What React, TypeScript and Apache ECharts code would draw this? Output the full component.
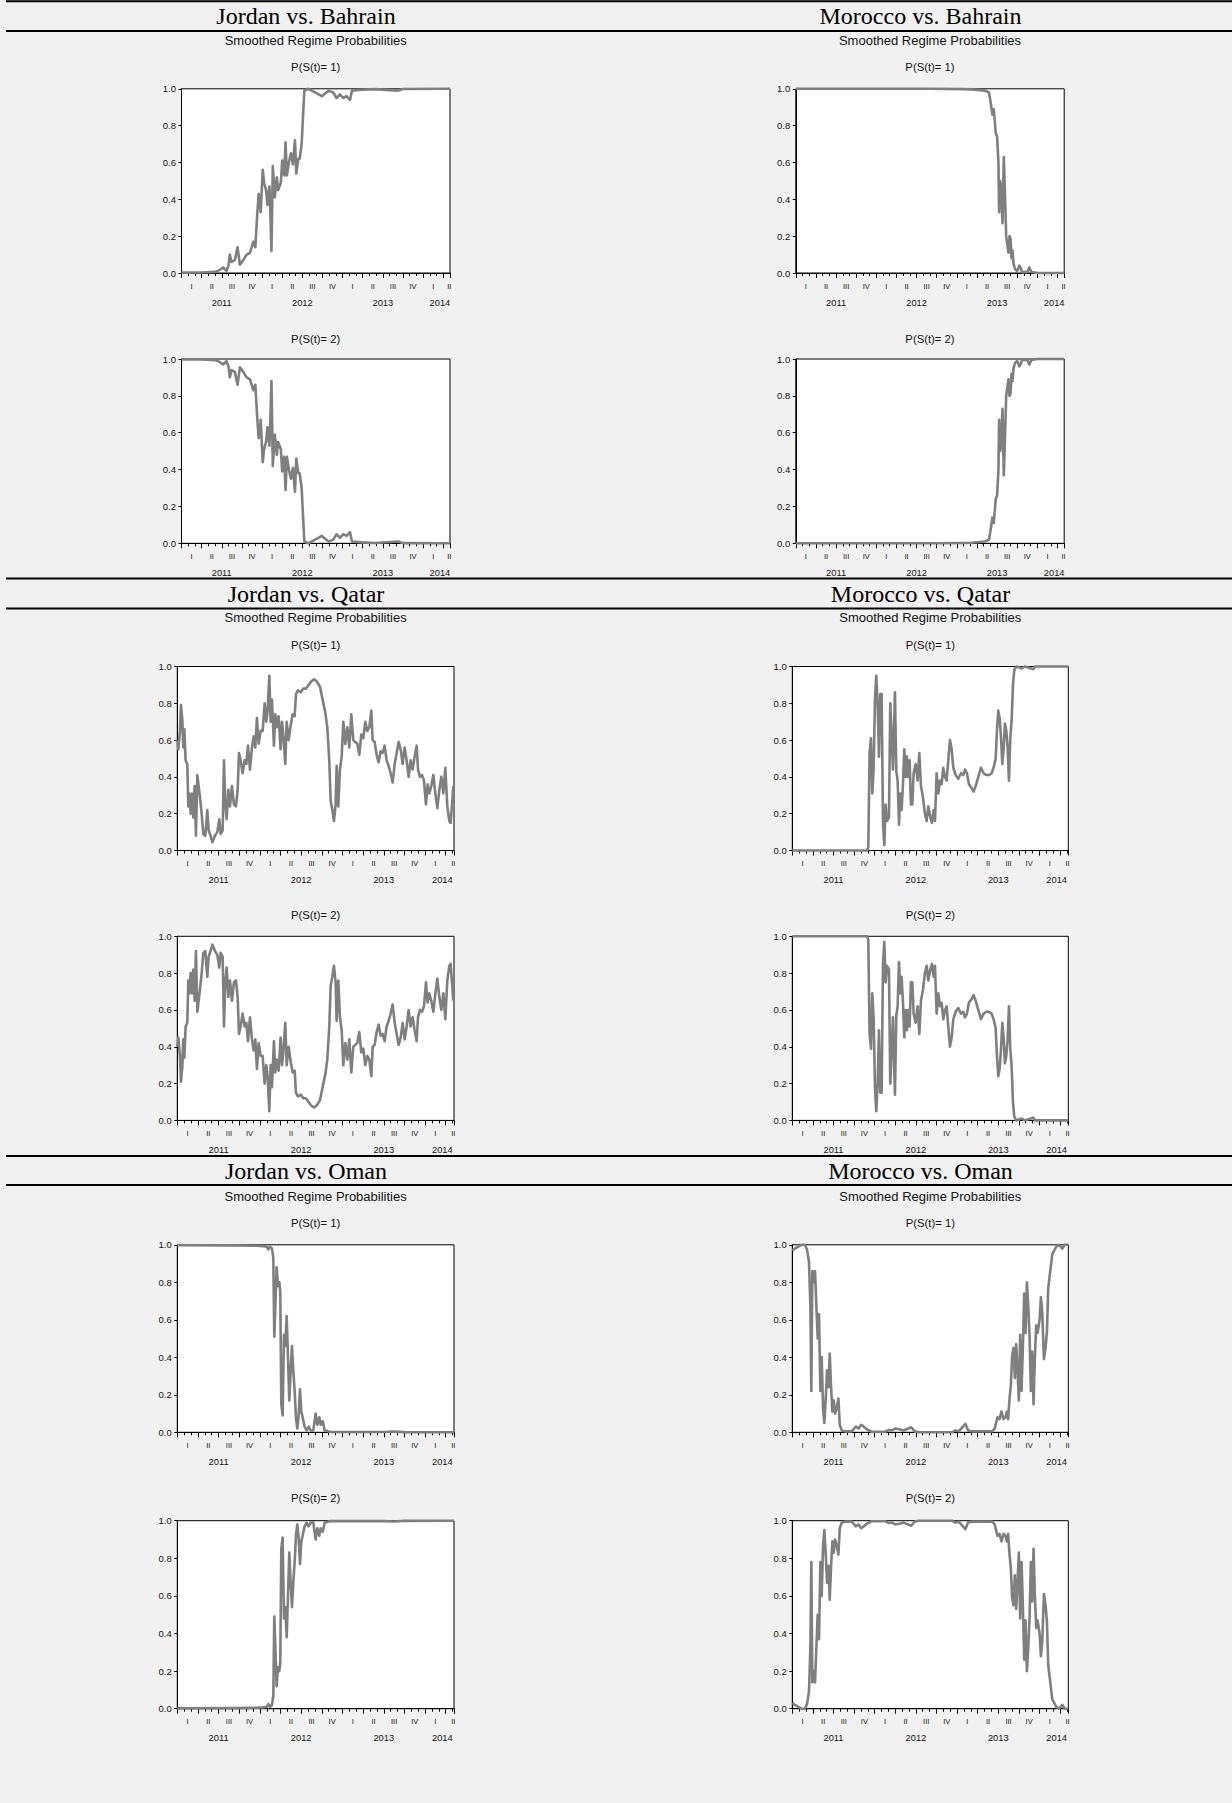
import React, { useEffect, useRef } from "react";
import * as echarts from "echarts";

// ---------- DATA (x = months since Jan 2011, y = smoothed probability of regime 1) ----------
const jordanBahrainP1: [number, number][] = [
  [0, 0.002], [3, 0.003], [5, 0.006], [5.5, 0.012], [6.2, 0.03], [6.7, 0.012], [7.0, 0.04], [7.2, 0.1],
  [7.45, 0.06], [7.95, 0.07], [8.35, 0.14], [8.7, 0.045], [9.2, 0.07], [9.7, 0.1], [10.2, 0.11], [10.7, 0.17],
  [11.0, 0.14], [11.3, 0.33], [11.5, 0.43], [11.8, 0.33], [12.1, 0.56], [12.3, 0.49], [12.6, 0.45], [12.8, 0.37],
  [13.1, 0.47], [13.3, 0.25], [13.4, 0.12], [13.6, 0.58], [13.9, 0.41], [14.2, 0.52], [14.4, 0.45], [14.8, 0.49],
  [15.0, 0.61], [15.3, 0.53], [15.5, 0.71], [15.7, 0.53], [16.0, 0.6], [16.3, 0.65], [16.6, 0.59], [16.9, 0.72],
  [17.1, 0.54], [17.4, 0.62], [17.6, 0.62], [17.9, 0.7], [18.1, 0.85], [18.3, 0.99], [18.9, 1.0], [19.9, 0.98],
  [20.9, 0.96], [21.9, 0.99], [22.6, 0.98], [23.1, 0.95], [23.6, 0.97], [24.1, 0.95], [24.6, 0.96], [25.1, 0.94],
  [25.4, 0.99], [26.8, 0.995], [28.8, 0.998], [32.3, 0.99], [33, 0.999], [40, 1.0],
];

const moroccoBahrainP1: [number, number][] = [
  [0, 1.0], [20, 1.0], [25, 0.998], [26.2, 0.997], [28.2, 0.99], [28.8, 0.98], [29.1, 0.91], [29.3, 0.86],
  [29.5, 0.89], [29.8, 0.76], [30.0, 0.74], [30.1, 0.67], [30.2, 0.6], [30.3, 0.33], [30.45, 0.5], [30.6, 0.47],
  [30.8, 0.27], [31.0, 0.63], [31.2, 0.4], [31.35, 0.2], [31.5, 0.16], [31.7, 0.11], [31.85, 0.2], [32.0, 0.19],
  [32.15, 0.08], [32.3, 0.12], [32.45, 0.05], [32.7, 0.02], [33.0, 0.01], [33.3, 0.04], [33.5, 0.03], [33.7, 0.005],
  [34.5, 0.005], [34.8, 0.03], [35.1, 0.005], [36, 0.0], [40, 0.0],
];

const jordanQatarP1: [number, number][] = [
  [0, 0.6], [0.15, 0.55], [0.39, 0.65], [0.53, 0.79], [0.73, 0.71], [0.87, 0.56], [1.02, 0.66], [1.21, 0.49],
  [1.45, 0.47], [1.6, 0.24], [1.74, 0.31], [1.94, 0.2], [2.13, 0.31], [2.32, 0.18], [2.52, 0.35], [2.71, 0.08],
  [2.91, 0.41], [3.1, 0.35], [3.29, 0.29], [3.54, 0.2], [3.78, 0.09], [4.07, 0.08], [4.36, 0.22], [4.55, 0.11],
  [4.84, 0.08], [5.09, 0.045], [5.47, 0.08], [5.81, 0.1], [6.1, 0.17], [6.3, 0.09], [6.59, 0.11], [6.78, 0.49],
  [6.97, 0.25], [7.17, 0.17], [7.41, 0.33], [7.65, 0.24], [7.94, 0.35], [8.23, 0.25], [8.52, 0.24], [8.77, 0.33],
  [8.96, 0.53], [9.2, 0.49], [9.49, 0.42], [9.78, 0.49], [10.03, 0.47], [10.27, 0.57], [10.56, 0.44], [10.85, 0.56],
  [11.09, 0.62], [11.33, 0.56], [11.57, 0.72], [11.82, 0.58], [12.11, 0.65], [12.4, 0.65], [12.69, 0.8], [12.93, 0.7],
  [13.12, 0.76], [13.37, 0.95], [13.56, 0.7], [13.75, 0.82], [14.04, 0.57], [14.24, 0.74], [14.43, 0.67], [14.72, 0.73],
  [15.01, 0.55], [15.21, 0.7], [15.4, 0.63], [15.69, 0.47], [15.89, 0.7], [16.18, 0.6], [16.47, 0.68], [16.76, 0.74],
  [17.05, 0.73], [17.24, 0.85], [17.53, 0.87], [17.92, 0.86], [18.31, 0.88], [18.69, 0.88], [19.08, 0.9], [19.47, 0.92],
  [19.86, 0.93], [20.24, 0.92], [20.73, 0.89], [21.11, 0.82], [21.5, 0.75], [21.79, 0.67], [22.08, 0.49], [22.28, 0.27],
  [22.52, 0.22], [22.76, 0.16], [23.0, 0.25], [23.15, 0.46], [23.39, 0.24], [23.63, 0.44], [23.88, 0.51], [24.12, 0.7],
  [24.41, 0.58], [24.7, 0.67], [24.99, 0.56], [25.28, 0.74], [25.57, 0.6], [25.86, 0.59], [26.15, 0.58], [26.44, 0.52],
  [26.73, 0.63], [27.02, 0.61], [27.31, 0.7], [27.6, 0.65], [27.9, 0.67], [28.19, 0.76], [28.38, 0.6], [28.67, 0.59],
  [28.96, 0.52], [29.25, 0.48], [29.54, 0.54], [29.83, 0.53], [30.12, 0.57], [30.41, 0.49], [30.7, 0.46], [30.99, 0.42],
  [31.29, 0.37], [31.58, 0.47], [31.87, 0.53], [32.16, 0.59], [32.45, 0.55], [32.74, 0.47], [33.03, 0.56], [33.32, 0.49],
  [33.61, 0.4], [33.9, 0.49], [34.19, 0.44], [34.48, 0.51], [34.77, 0.57], [34.97, 0.44], [35.26, 0.4], [35.55, 0.41],
  [35.84, 0.38], [36.13, 0.25], [36.37, 0.36], [36.61, 0.31], [36.9, 0.35], [37.2, 0.41], [37.49, 0.31], [37.78, 0.23],
  [38.07, 0.33], [38.36, 0.4], [38.65, 0.31], [38.94, 0.45], [39.23, 0.24], [39.52, 0.16], [39.71, 0.15], [39.91, 0.25],
  [40.1, 0.35],
];

const moroccoQatarP1: [number, number][] = [
  [0, 0.0], [10.9, 0.0], [11.07, 0.02], [11.26, 0.53], [11.46, 0.61], [11.65, 0.31], [11.85, 0.45], [12.04, 0.82],
  [12.23, 0.95], [12.43, 0.8], [12.62, 0.51], [12.82, 0.85], [13.01, 0.85], [13.21, 0.15], [13.4, 0.03], [13.59, 0.25],
  [13.79, 0.16], [14.08, 0.18], [14.27, 0.8], [14.47, 0.62], [14.66, 0.44], [14.95, 0.86], [15.15, 0.43], [15.34, 0.38],
  [15.54, 0.14], [15.73, 0.31], [15.92, 0.22], [16.12, 0.36], [16.31, 0.55], [16.51, 0.4], [16.7, 0.51], [16.9, 0.4],
  [17.09, 0.49], [17.28, 0.25], [17.48, 0.25], [17.67, 0.42], [17.96, 0.47], [18.25, 0.38], [18.5, 0.53], [18.74, 0.35],
  [19.03, 0.29], [19.32, 0.2], [19.57, 0.16], [19.81, 0.24], [20.1, 0.18], [20.34, 0.15], [20.59, 0.22], [20.78, 0.16],
  [21.02, 0.42], [21.27, 0.31], [21.51, 0.38], [21.75, 0.36], [21.99, 0.45], [22.24, 0.4], [22.48, 0.38], [22.72, 0.49],
  [22.96, 0.6], [23.21, 0.55], [23.45, 0.45], [23.79, 0.41], [24.18, 0.39], [24.57, 0.42], [24.91, 0.41], [25.15, 0.44],
  [25.44, 0.42], [25.73, 0.36], [26.12, 0.34], [26.41, 0.32], [26.7, 0.35], [27.09, 0.4], [27.48, 0.45], [27.87, 0.42],
  [28.26, 0.41], [28.64, 0.41], [29.03, 0.42], [29.32, 0.45], [29.62, 0.5], [29.81, 0.65], [30.0, 0.76], [30.2, 0.72],
  [30.39, 0.62], [30.59, 0.47], [30.78, 0.55], [30.97, 0.69], [31.17, 0.65], [31.36, 0.56], [31.56, 0.38], [31.75, 0.61],
  [31.95, 0.71], [32.14, 0.9], [32.33, 0.98], [32.63, 1.0], [33.4, 0.99], [33.89, 1.0], [35.1, 0.985], [35.34, 1.0],
  [40.2, 1.0],
];

const jordanOmanP1: [number, number][] = [
  [0, 0.998], [8, 0.997], [11.5, 0.995], [12.5, 0.993], [13.0, 0.99], [13.22, 0.975], [13.46, 0.99], [13.75, 0.98],
  [13.95, 0.93], [14.09, 0.51], [14.24, 0.67], [14.43, 0.88], [14.63, 0.78], [14.82, 0.8], [14.96, 0.75], [15.11, 0.15],
  [15.3, 0.09], [15.5, 0.52], [15.69, 0.46], [15.89, 0.62], [16.08, 0.4], [16.27, 0.17], [16.47, 0.33], [16.66, 0.46],
  [16.85, 0.33], [17.05, 0.22], [17.24, 0.08], [17.43, 0.02], [17.63, 0.09], [17.82, 0.23], [18.02, 0.11], [18.21, 0.08],
  [18.5, 0.03], [18.79, 0.01], [19.08, 0.03], [19.37, 0.01], [19.76, 0.01], [20.1, 0.1], [20.34, 0.04], [20.63, 0.08],
  [20.82, 0.04], [21.12, 0.06], [21.41, 0.01], [21.7, 0.008], [22.18, 0.002], [30, 0.002], [31.5, 0.004], [33, 0.001],
  [40.2, 0.0],
];

const moroccoOmanP1: [number, number][] = [
  [0, 0.97], [0.39, 0.98], [0.88, 0.99], [1.36, 1.0], [1.85, 1.0], [2.14, 0.975], [2.43, 0.91], [2.63, 0.68],
  [2.77, 0.22], [2.92, 0.86], [3.11, 0.8], [3.31, 0.86], [3.5, 0.68], [3.7, 0.5], [3.89, 0.63], [4.09, 0.22],
  [4.28, 0.4], [4.48, 0.13], [4.67, 0.05], [4.87, 0.18], [5.06, 0.33], [5.26, 0.24], [5.45, 0.42], [5.65, 0.24],
  [5.84, 0.11], [6.04, 0.17], [6.23, 0.1], [6.47, 0.13], [6.72, 0.18], [6.91, 0.04], [7.2, 0.01], [7.69, 0.005],
  [8.66, 0.005], [9.25, 0.03], [9.64, 0.02], [10.03, 0.04], [10.42, 0.03], [10.9, 0.015], [11.58, 0.003], [13.53, 0.003],
  [14.02, 0.012], [14.5, 0.01], [14.99, 0.02], [15.72, 0.015], [16.21, 0.01], [17.33, 0.027], [17.81, 0.005], [18.4, 0.0],
  [23.26, 0.0], [23.75, 0.01], [24.24, 0.005], [25.21, 0.045], [25.6, 0.01], [26.18, 0.005], [29.1, 0.005], [29.49, 0.02],
  [29.88, 0.08], [30.18, 0.07], [30.47, 0.11], [30.76, 0.07], [31.05, 0.08], [31.25, 0.11], [31.44, 0.07], [31.64, 0.18],
  [31.83, 0.25], [32.02, 0.41], [32.22, 0.45], [32.41, 0.29], [32.61, 0.47], [32.8, 0.33], [33.0, 0.17], [33.19, 0.52],
  [33.39, 0.22], [33.58, 0.45], [33.78, 0.74], [33.97, 0.53], [34.17, 0.8], [34.36, 0.68], [34.56, 0.51], [34.75, 0.22],
  [34.94, 0.43], [35.14, 0.15], [35.33, 0.4], [35.53, 0.57], [35.72, 0.53], [36.02, 0.6], [36.21, 0.72], [36.41, 0.64],
  [36.65, 0.39], [36.89, 0.45], [37.09, 0.54], [37.28, 0.77], [37.48, 0.83], [37.67, 0.89], [37.87, 0.95], [38.16, 0.97],
  [38.45, 0.99], [38.84, 1.0], [39.33, 0.98], [39.71, 1.0], [40.2, 1.0],
];

// Tick labels
const quarterNames = ["I", "II", "III", "IV"];
const quarterLabelMonths = [1.5, 4.5, 7.5, 10.5, 13.5, 16.5, 19.5, 22.5, 25.5, 28.5, 31.5, 34.5, 37.5];
const yearLabels = ["2011", "2012", "2013", "2014"];
const yearLabelMonths = [6, 18, 30, 38.5];
const pairTitles = [
  ["Jordan vs. Bahrain", "Morocco vs. Bahrain"],
  ["Jordan vs. Qatar", "Morocco vs. Qatar"],
  ["Jordan vs. Oman", "Morocco vs. Oman"],
];
const panelTitles = ["P(S(t)= 1)", "P(S(t)= 2)"];
const subTitle = "Smoothed Regime Probabilities";
const regime1Series = [
  [jordanBahrainP1, moroccoBahrainP1],
  [jordanQatarP1, moroccoQatarP1],
  [jordanOmanP1, moroccoOmanP1],
];

// ---------- LAYOUT ----------
const SANS = '"Liberation Sans", Arial, Helvetica, sans-serif';
const SERIF = '"Liberation Serif", "Times New Roman", Times, serif';
const W = 1232;
const H = 1803;

const BLOCKS = [
  {
    lineTop: 1.2, titleY: 16, lineBelow: 31, subY: 40.3, xMax: 40, lastQ: 39.9,
    rows: [{ titleY: 66.7, top: 88.8, h: 184.2 }, { titleY: 338.5, top: 359, h: 184.3 }],
    cols: [{ left: 181.5, width: 268.5 }, { left: 795.8, width: 268.4 }],
  },
  {
    lineTop: 578.6, titleY: 593.5, lineBelow: 608.5, subY: 617.7, xMax: 40.2, lastQ: 40.1,
    rows: [{ titleY: 645.3, top: 666.5, h: 184 }, { titleY: 914.5, top: 936.3, h: 184.1 }],
    cols: [{ left: 177.3, width: 276.7 }, { left: 792.3, width: 276 }],
  },
  {
    lineTop: 1156, titleY: 1171, lineBelow: 1185, subY: 1196, xMax: 40.2, lastQ: 40.1,
    rows: [{ titleY: 1222.7, top: 1244.8, h: 187.5 }, { titleY: 1498, top: 1520.7, h: 188 }],
    cols: [{ left: 177.3, width: 276.7 }, { left: 792.3, width: 276 }],
  },
];
const TITLE_X = [306, 920.5];

function buildOption() {
  const grids: any[] = [];
  const xAxes: any[] = [];
  const yAxes: any[] = [];
  const series: any[] = [];
  const graphics: any[] = [];

  BLOCKS.forEach((b, bi) => {
    graphics.push({
      type: "line", silent: true,
      shape: { x1: 6, y1: b.lineTop, x2: W, y2: b.lineTop },
      style: { stroke: "#000", lineWidth: 2 },
    });
    graphics.push({
      type: "line", silent: true,
      shape: { x1: 6, y1: b.lineBelow, x2: W, y2: b.lineBelow },
      style: { stroke: "#000", lineWidth: 2 },
    });
    b.cols.forEach((c, ci) => {
      const cx = c.left + c.width / 2;
      graphics.push({
        type: "text", silent: true, x: TITLE_X[ci], y: b.titleY,
        style: {
          text: pairTitles[bi][ci], fill: "#000", font: `24px ${SERIF}`,
          align: "center", verticalAlign: "middle", textAlign: "center", textVerticalAlign: "middle",
        },
      });
      graphics.push({
        type: "text", silent: true, x: cx, y: b.subY,
        style: {
          text: subTitle, fill: "#111", font: `13px ${SANS}`,
          align: "center", verticalAlign: "middle", textAlign: "center", textVerticalAlign: "middle",
        },
      });
      const p1 = regime1Series[bi][ci];
      // P(S(t)=2) is the complement of P(S(t)=1) for a two-regime model
      const p2 = p1.map(([m, v]) => [m, +(1 - v).toFixed(4)] as [number, number]);
      [p1, p2].forEach((data, ri) => {
        const r = b.rows[ri];
        const gi = grids.length;
        graphics.push({
          type: "text", silent: true, x: cx, y: r.titleY,
          style: {
            text: panelTitles[ri], fill: "#111", font: `11.3px ${SANS}`,
            align: "center", verticalAlign: "middle", textAlign: "center", textVerticalAlign: "middle",
          },
        });
        grids.push({
          left: c.left, top: r.top, width: c.width, height: r.h,
          show: true, backgroundColor: "#fff", borderColor: "#000", borderWidth: 1,
          containLabel: false, outerBoundsMode: "none",
        });
        const labelMonths = [...quarterLabelMonths, b.lastQ, ...yearLabelMonths];
        xAxes.push({
          type: "value", gridIndex: gi, min: 0, max: b.xMax, interval: 3, position: "bottom",
          axisLine: { show: true, onZero: false, lineStyle: { color: "#000", width: 1 } },
          axisTick: { show: true, inside: false, length: 5, lineStyle: { color: "#000", width: 1 } },
          minorTick: { show: true, splitNumber: 3, length: 3, lineStyle: { color: "#000", width: 1 } },
          splitLine: { show: false }, minorSplitLine: { show: false },
          axisLabel: {
            show: true, customValues: labelMonths, margin: 9, hideOverlap: false,
            showMinLabel: true, showMaxLabel: true, color: "#111", fontFamily: SANS, fontSize: 7.5,
            formatter: (v: number) => {
              const yi = yearLabelMonths.indexOf(v);
              if (yi >= 0) return `{y|${yearLabels[yi]}}`;
              return `{q|${quarterNames[Math.floor(v / 3) % 4]}}`;
            },
            rich: {
              q: { fontSize: 7.5, fontFamily: SANS, color: "#111" },
              y: { fontSize: 9.3, fontFamily: SANS, color: "#111", padding: [16, 0, 0, 0] },
            },
          },
        });
        yAxes.push({
          type: "value", gridIndex: gi, min: 0, max: 1, interval: 0.2, position: "left",
          axisLine: { show: true, onZero: false, lineStyle: { color: "#000", width: 1 } },
          axisTick: { show: true, inside: false, length: 3, lineStyle: { color: "#000", width: 1 } },
          splitLine: { show: false },
          axisLabel: {
            show: true, margin: 5.5, color: "#111", fontFamily: SANS, fontSize: 9.5,
            formatter: (v: number) => v.toFixed(1),
          },
        });
        series.push({
          type: "line", xAxisIndex: gi, yAxisIndex: gi, data,
          showSymbol: false, symbol: "none", clip: false, silent: true,
          lineStyle: { color: "#7f7f7f", width: 2.6, join: "round" },
          z: 3,
        });
      });
    });
  });

  return {
    animation: false,
    backgroundColor: "#f1f1f1",
    grid: grids,
    xAxis: xAxes,
    yAxis: yAxes,
    series,
    graphic: { elements: graphics },
  };
}

export default function App() {
  const ref = useRef<HTMLDivElement>(null);
  useEffect(() => {
    document.body.style.margin = "0";
    if (!ref.current) return;
    const chart = echarts.init(ref.current, null, { renderer: "svg", width: W, height: H });
    chart.setOption(buildOption() as any);
    return () => chart.dispose();
  }, []);
  return (
    <div
      ref={ref}
      style={{ position: "absolute", left: 0, top: 0, width: W, height: H, background: "#f1f1f1" }}
    />
  );
}
